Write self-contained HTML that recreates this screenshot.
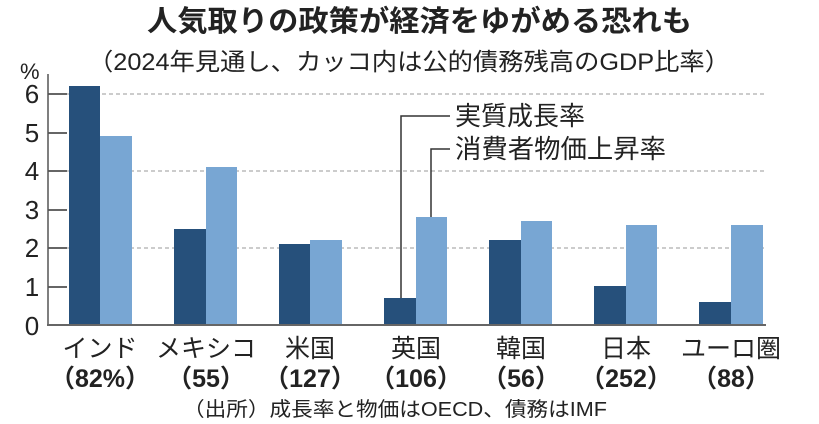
<!DOCTYPE html>
<html><head><meta charset="utf-8"><style>
body{margin:0;background:#fff;}
svg{display:block;font-family:"Liberation Sans","Noto Sans CJK JP",sans-serif;}
</style></head><body>
<svg width="819" height="424" viewBox="0 0 819 424">
<text x="147" y="31" font-size="29" font-weight="bold" fill="#222" textLength="545" lengthAdjust="spacingAndGlyphs">人気取りの政策が経済をゆがめる恐れも</text>
<text x="88" y="70" font-size="24" fill="#222" textLength="642" lengthAdjust="spacingAndGlyphs">（2024年見通し、カッコ内は公的債務残高のGDP比率）</text>
<text x="20" y="79" font-size="22" fill="#222">%</text>
<g stroke="#999" stroke-dasharray="4,3" stroke-width="1">
<line x1="67" y1="94" x2="765" y2="94"/><line x1="67" y1="171" x2="765" y2="171"/><line x1="67" y1="248" x2="765" y2="248"/>
</g>
<g stroke="#333" stroke-width="1.5">
<line x1="48" y1="94" x2="67" y2="94"/><line x1="48" y1="133" x2="67" y2="133"/><line x1="48" y1="171" x2="67" y2="171"/><line x1="48" y1="210" x2="67" y2="210"/><line x1="48" y1="248" x2="67" y2="248"/><line x1="48" y1="287" x2="67" y2="287"/>
</g>
<g font-size="26" fill="#222" text-anchor="middle">
<text x="32" y="103">6</text><text x="32" y="142">5</text><text x="32" y="180">4</text><text x="32" y="219">3</text><text x="32" y="257">2</text><text x="32" y="296">1</text><text x="32" y="335">0</text>
</g>
<g fill="#26507b">
<rect x="69" y="86" width="31" height="239"/>
<rect x="174" y="229" width="32" height="96"/>
<rect x="279" y="244" width="31" height="81"/>
<rect x="384" y="298" width="32" height="27"/>
<rect x="489" y="240" width="32" height="85"/>
<rect x="594" y="286" width="32" height="39"/>
<rect x="699" y="302" width="32" height="23"/>
</g>
<g fill="#78a6d3">
<rect x="100" y="136" width="32" height="189"/>
<rect x="206" y="167" width="31" height="158"/>
<rect x="310" y="240" width="32" height="85"/>
<rect x="416" y="217" width="31" height="108"/>
<rect x="521" y="221" width="31" height="104"/>
<rect x="626" y="225" width="31" height="100"/>
<rect x="731" y="225" width="32" height="100"/>
</g>
<line x1="48" y1="74" x2="48" y2="326" stroke="#555" stroke-width="1.5"/>
<line x1="47" y1="325" x2="766" y2="325" stroke="#666" stroke-width="2"/>
<g stroke="#333" stroke-width="1.5" fill="none">
<polyline points="401,298 401,116 450,116"/>
<polyline points="431,217 431,149 450,149"/>
</g>
<g font-size="26" fill="#222">
<text x="455" y="125" textLength="130" lengthAdjust="spacingAndGlyphs">実質成長率</text>
<text x="455" y="158" textLength="211" lengthAdjust="spacingAndGlyphs">消費者物価上昇率</text>
</g>
<g font-size="25" fill="#222" text-anchor="middle">
<text x="100" y="357">インド</text><text x="206" y="357">メキシコ</text><text x="310" y="357">米国</text><text x="416" y="357">英国</text><text x="521" y="357">韓国</text><text x="626" y="357">日本</text><text x="731" y="357">ユーロ圏</text>
</g>
<g font-size="25" font-weight="bold" fill="#222" text-anchor="middle">
<text x="100" y="387">（82%）</text><text x="206" y="387">（55）</text><text x="310" y="387">（127）</text><text x="416" y="387">（106）</text><text x="521" y="387">（56）</text><text x="626" y="387">（252）</text><text x="731" y="387">（88）</text>
</g>
<text x="183" y="416" font-size="20" fill="#222" textLength="424" lengthAdjust="spacingAndGlyphs">（出所）成長率と物価はOECD、債務はIMF</text>
</svg>
</body></html>
